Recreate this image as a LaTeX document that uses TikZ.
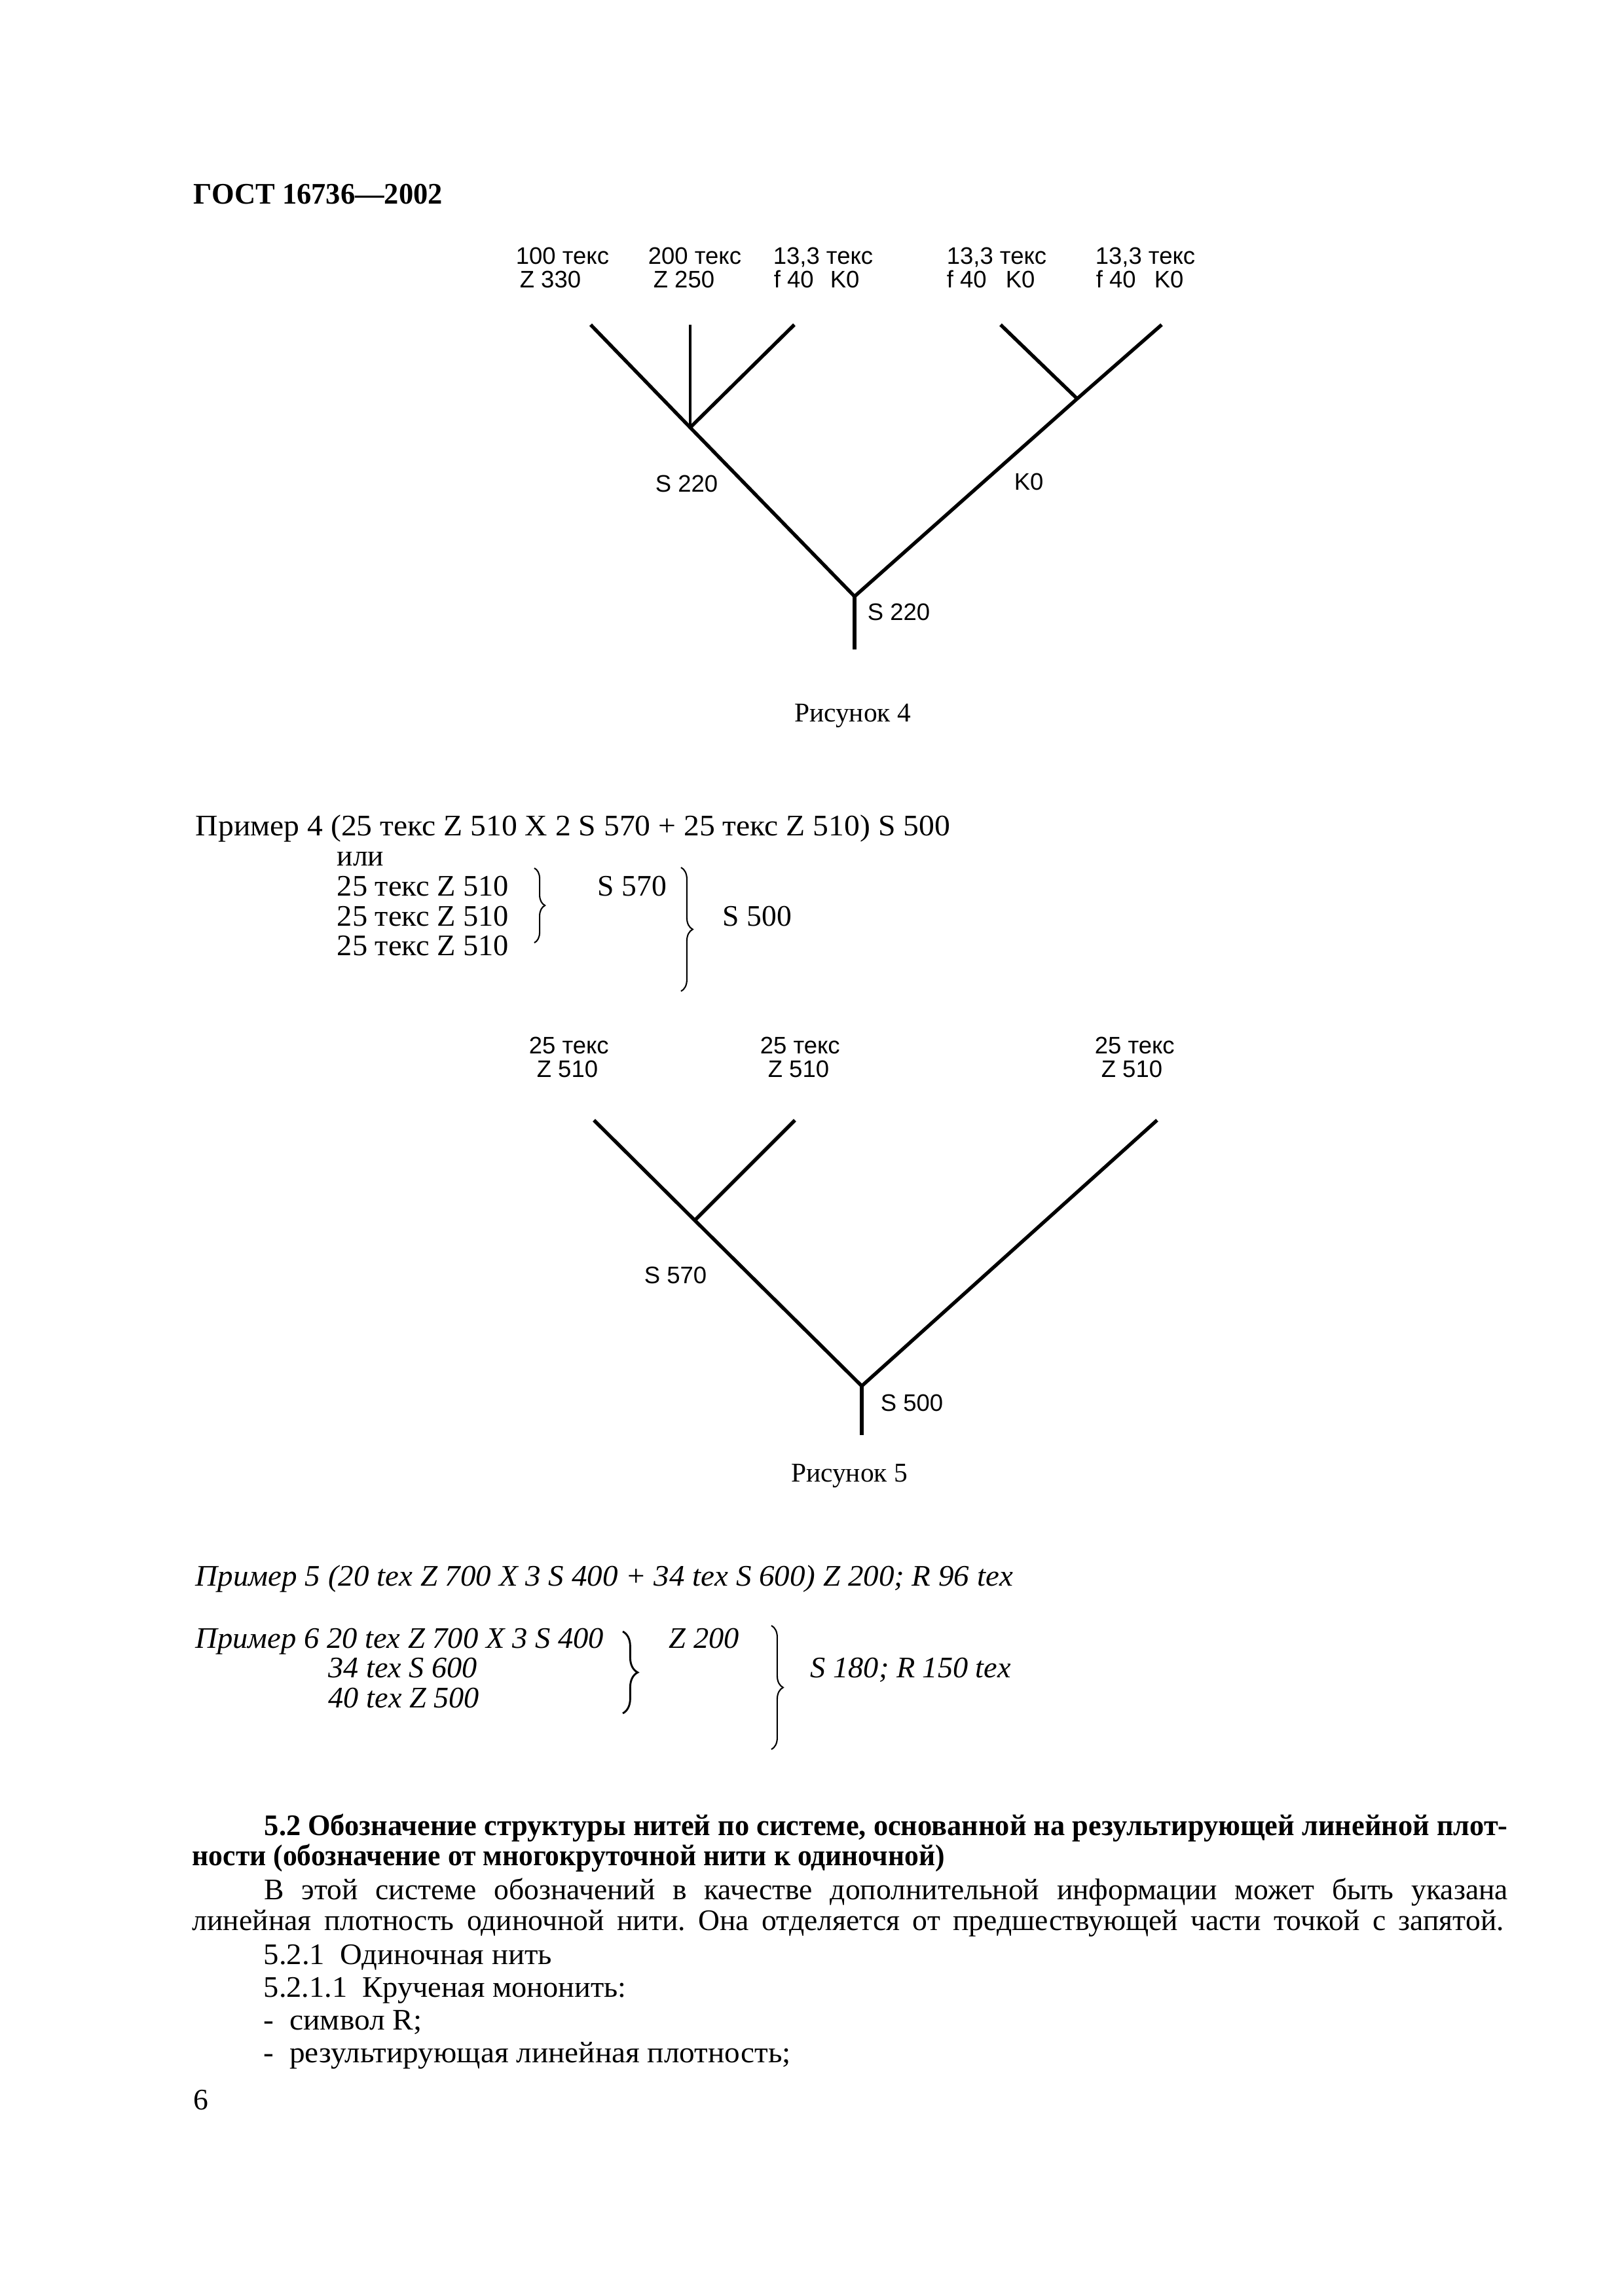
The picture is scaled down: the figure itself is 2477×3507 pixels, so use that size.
\documentclass[tikz,border=0pt]{standalone}
\usepackage{fontspec}
\usepackage{graphicx}
\setmainfont{Liberation Serif}
\newfontfamily\lsans{Liberation Sans}
\usetikzlibrary{decorations.pathreplacing}
\newdimen\pxu \pxu=0.24122pt
\newcommand\fitw[2]{\resizebox{#1\pxu}{\height}{#2}}
\newcommand\justw[2]{\makebox[#1\pxu][s]{#2}}
\frenchspacing
\begin{document}
\begin{tikzpicture}[x=0.24122pt,y=-0.24122pt,
  txt/.style={inner sep=0pt, anchor=base west, font=\fontsize{11}{13}\selectfont},
  figcap/.style={inner sep=0pt, anchor=base, font=\fontsize{10}{12}\selectfont},
  lbl/.style={inner sep=0pt, anchor=base west, font=\lsans\fontsize{8.8}{10}\selectfont},
  tree/.style={line width=1.3pt, line cap=butt, line join=miter},
  thinstem/.style={line width=0.9pt},
  brc/.style={decorate, decoration={brace, amplitude=#1}, line width=0.5pt}]
\fill[white] (0,0) rectangle (2477,3507);
\useasboundingbox (0,0) rectangle (2477,3507);

% header
\node[txt, font=\bfseries\fontsize{11}{13}\selectfont] (hdr) at (295,311) {\fitw{380}{ГОСТ 16736—2002}};

% ---------- Figure 4 ----------
\coordinate (t1) at (902,496);
\coordinate (t2) at (1054,496);
\coordinate (t3) at (1213,496);
\coordinate (t4) at (1528,496);
\coordinate (t5) at (1774,496);
\coordinate (A) at (1054,653);
\coordinate (C) at (1645,609);
\coordinate (B) at (1305,911);
\coordinate (R4) at (1305,992);

\draw[tree] (t1) -- (A) -- (B);
\draw[tree] (t3) -- (A);
\draw[thinstem] (t2) -- (A);
\draw[tree] (t4) -- (C);
\draw[tree] (t5) -- (C) -- (B);
\draw[tree] (B) -- (R4);

\node[lbl] (l1a) at (787,403) {100 текс};
\node[lbl] (l1b) at (793,439) {Z 330};
\node[lbl] (l2a) at (989,403) {200 текс};
\node[lbl] (l2b) at (997,439) {Z 250};
\node[lbl] (l3a) at (1180,403) {13,3 текс};
\node[lbl] (l3b) at (1181,439) {f 40};
\node[lbl] (l3c) at (1267,439) {K0};
\node[lbl] (l4a) at (1445,403) {13,3 текс};
\node[lbl] (l4b) at (1445,439) {f 40};
\node[lbl] (l4c) at (1535,439) {K0};
\node[lbl] (l5a) at (1672,403) {13,3 текс};
\node[lbl] (l5b) at (1673,439) {f 40};
\node[lbl] (l5c) at (1762,439) {K0};
\node[lbl] (s4a) at (1000,751) {S 220};
\node[lbl] (k4) at (1548,748) {K0};
\node[lbl] (s4b) at (1324,947) {S 220};
\node[figcap] (fig4) at (1302,1102) {Рисунок 4};

% ---------- Example 4 ----------
\node[txt] (ex4) at (298,1276) {\fitw{1152}{Пример 4 (25 текс Z 510 X 2 S 570 + 25 текс Z 510) S 500}};
\node[txt] (ili) at (514,1322) {или};
\node[txt] (e4a) at (514,1368) {\fitw{262}{25 текс Z 510}};
\node[txt] (e4b) at (514,1414) {\fitw{262}{25 текс Z 510}};
\node[txt] (e4c) at (514,1459) {\fitw{262}{25 текс Z 510}};
\node[txt] (e4s) at (912,1368) {S 570};
\node[txt] (e4t) at (1103,1414) {S 500};
\coordinate (b1t) at (816,1326);
\coordinate (b1b) at (816,1440);
\coordinate (b2t) at (1040,1325);
\coordinate (b2b) at (1040,1514);
\draw[brc=3.9pt] (b1t) -- (b1b);
\draw[brc=4.3pt] (b2t) -- (b2b);

% ---------- Figure 5 ----------
\coordinate (u1) at (907,1711);
\coordinate (u2) at (1214,1711);
\coordinate (u3) at (1767,1711);
\coordinate (D) at (1061,1864);
\coordinate (E) at (1316,2117);
\coordinate (R5) at (1316,2192);
\draw[tree] (u1) -- (D) -- (E);
\draw[tree] (u2) -- (D);
\draw[tree] (u3) -- (E);
\draw[tree] (E) -- (R5);

\node[lbl] (m1a) at (807,1609) {25 текс};
\node[lbl] (m1b) at (819,1645) {Z 510};
\node[lbl] (m2a) at (1160,1609) {25 текс};
\node[lbl] (m2b) at (1172,1645) {Z 510};
\node[lbl] (m3a) at (1671,1609) {25 текс};
\node[lbl] (m3b) at (1681,1645) {Z 510};
\node[lbl] (s5a) at (983,1960) {S 570};
\node[lbl] (s5b) at (1344,2155) {S 500};
\node[figcap] (fig5) at (1297,2263) {Рисунок 5};

% ---------- Examples 5, 6 ----------
\node[txt, font=\itshape\fontsize{11}{13}\selectfont] (ex5) at (298,2422) {\fitw{1248}{Пример 5 (20 tex Z 700 X 3 S 400 + 34 tex S 600) Z 200; R 96 tex}};
\node[txt, font=\itshape\fontsize{11}{13}\selectfont] (ex6) at (298,2517) {\fitw{623}{Пример 6 20 tex Z 700 X 3 S 400}};
\node[txt, font=\itshape\fontsize{11}{13}\selectfont] (ex6b) at (501,2562) {\fitw{227}{34 tex S 600}};
\node[txt, font=\itshape\fontsize{11}{13}\selectfont] (ex6c) at (501,2608) {\fitw{230}{40 tex Z 500}};
\node[txt, font=\itshape\fontsize{11}{13}\selectfont] (ex6z) at (1021,2517) {\fitw{107}{Z 200}};
\node[txt, font=\itshape\fontsize{11}{13}\selectfont] (ex6s) at (1237,2562) {\fitw{306}{S 180; R 150 tex}};
\coordinate (b3t) at (951,2492);
\coordinate (b3b) at (951,2617);
\coordinate (b4t) at (1178,2483);
\coordinate (b4b) at (1178,2672);
\draw[brc=5.5pt,line width=0.7pt] (b3t) -- (b3b);
\draw[brc=4.3pt] (b4t) -- (b4b);

% ---------- Section 5.2 ----------
\node[txt, font=\bfseries\fontsize{11}{13}\selectfont] (p1) at (403,2803) {\fitw{1899}{5.2 Обозначение структуры нитей по системе, основанной на результирующей линейной плот-}};
\node[txt, font=\bfseries\fontsize{11}{13}\selectfont] (p2) at (293,2849) {\fitw{1149}{ности (обозначение от многокруточной нити к одиночной)}};
\node[txt] (p3) at (403,2901) {\justw{1899}{В этой системе обозначений в качестве дополнительной информации может быть указана}};
\node[txt] (p4) at (293,2948) {\justw{2003}{линейная плотность одиночной нити. Она отделяется от предшествующей части точкой с запятой.}};
\node[txt] (p5) at (402,3000) {\fitw{440}{5.2.1\ \ Одиночная нить}};
\node[txt] (p6) at (402,3050) {\fitw{554}{5.2.1.1\ \ Крученая мононить:}};
\node[txt] (p7) at (402,3100) {\fitw{242}{-\ \ символ R;}};
\node[txt] (p8) at (402,3150) {\fitw{805}{-\ \ результирующая линейная плотность;}};
\node[txt] (pg) at (295,3222) {6};
\end{tikzpicture}
\end{document}
